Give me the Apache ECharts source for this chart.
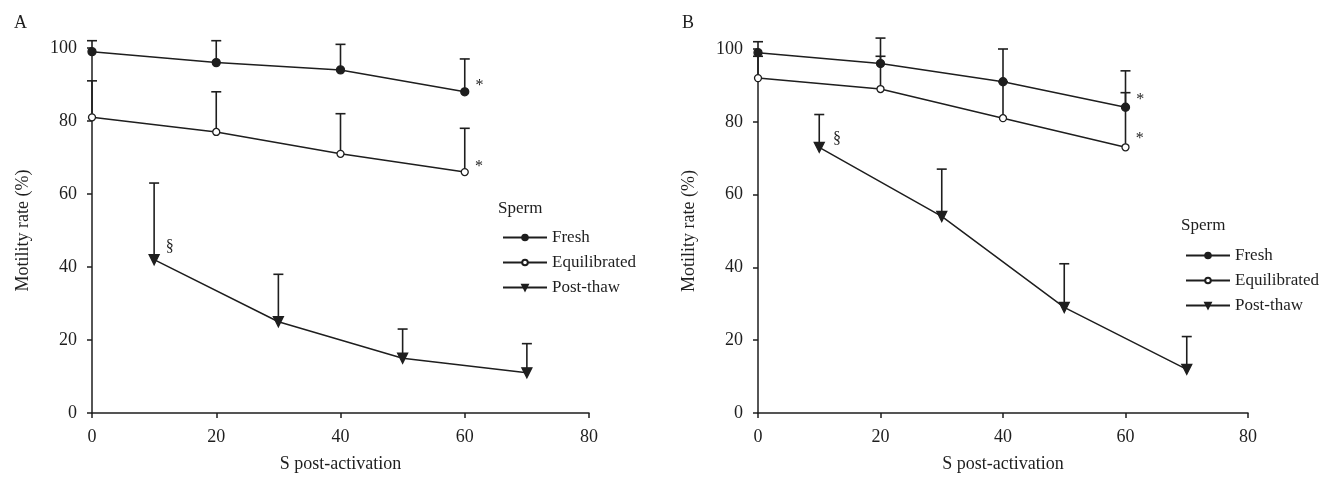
<!DOCTYPE html>
<html>
<head>
<meta charset="utf-8">
<title>Motility rate</title>
<script src="https://cdn.jsdelivr.net/npm/echarts@6.0.0/dist/echarts.min.js"></script>
<style>
  html, body { margin: 0; padding: 0; background: #fff; }
  #chart { width: 1339px; height: 485px; }
</style>
</head>
<body>
<div id="chart"></div>
<script>
// seconds post-activation
const timesFE = [0, 20, 40, 60];
const timesPT = [10, 30, 50, 70];

// panel A
const freshA = [99, 96, 94, 88];
const freshSdA = [3, 6, 7, 9];
const equilA = [81, 77, 71, 66];
const equilSdA = [10, 11, 11, 12];
const thawA = [42, 25, 15, 11];
const thawSdA = [21, 13, 8, 8];

// panel B
const freshB = [99, 96, 91, 84];
const freshSdB = [3, 7, 9, 10];
const equilB = [92, 89, 81, 73];
const equilSdB = [6, 9, 10, 15];
const thawB = [73, 54, 29, 12];
const thawSdB = [9, 13, 12, 9];

const seriesNames = ['Fresh', 'Equilibrated', 'Post-thaw'];
const xTicks = [0, 20, 40, 60, 80];
const yTicks = [0, 20, 40, 60, 80, 100];

const ink = '#1e1e1e';
const serif = 'Liberation Serif';
const triDown = 'path://M0,0 L10,0 L5,9 Z';

const chart = echarts.init(document.getElementById('chart'));

// one point list, with an optional mark (* or §) next to one point
function points(xs, ys, markIdx, mark, offset) {
  return xs.map((x, i) => {
    if (i !== markIdx) return [x, ys[i]];
    return {
      value: [x, ys[i]],
      label: {
        show: true, formatter: mark, position: 'right', distance: 6,
        offset: offset, color: ink, fontFamily: serif, fontSize: 16
      }
    };
  });
}

function errData(xs, ys, sd) {
  return xs.map((x, i) => [x, ys[i], ys[i] + sd[i]]);
}

function errRender(params, api) {
  const p = api.coord([api.value(0), api.value(1)]);
  const t = api.coord([api.value(0), api.value(2)]);
  return {
    type: 'group',
    children: [
      { type: 'line', shape: { x1: p[0], y1: p[1], x2: t[0], y2: t[1] }, style: { stroke: ink, lineWidth: 1.6 } },
      { type: 'line', shape: { x1: t[0] - 5, y1: t[1], x2: t[0] + 5, y2: t[1] }, style: { stroke: ink, lineWidth: 1.6 } }
    ]
  };
}

function lineSeries(name, idx, data, symbol, size, fill) {
  return {
    name: name,
    type: 'line',
    xAxisIndex: idx,
    yAxisIndex: idx,
    data: data,
    symbol: symbol,
    symbolSize: size,
    showAllSymbol: true,
    lineStyle: { color: ink, width: 1.5 },
    itemStyle: { color: fill, borderColor: ink, borderWidth: 1.3 },
    z: 3
  };
}

function errSeries(idx, data) {
  return {
    type: 'custom',
    xAxisIndex: idx,
    yAxisIndex: idx,
    data: data,
    renderItem: errRender,
    encode: { x: 0, y: 1 },
    silent: true,
    z: 2
  };
}

function xAxis(idx) {
  return {
    type: 'value', gridIndex: idx, min: xTicks[0], max: xTicks[xTicks.length - 1], interval: 20,
    name: 'S post-activation', nameLocation: 'middle', nameGap: 42,
    nameTextStyle: { color: ink, fontFamily: serif, fontSize: 18 },
    axisLine: { lineStyle: { color: ink, width: 1.5 } },
    axisTick: { lineStyle: { color: ink, width: 1.5 }, length: 5 },
    axisLabel: { color: ink, fontFamily: serif, fontSize: 18, margin: 15 },
    splitLine: { show: false }
  };
}

function yAxis(idx) {
  return {
    type: 'value', gridIndex: idx, min: yTicks[0], max: yTicks[yTicks.length - 1], interval: 20,
    name: 'Motility rate (%)', nameLocation: 'middle', nameGap: 60,
    nameTextStyle: { color: ink, fontFamily: serif, fontSize: 18 },
    axisLine: { show: true, lineStyle: { color: ink, width: 1.5 } },
    axisTick: { show: true, lineStyle: { color: ink, width: 1.5 }, length: 5 },
    axisLabel: { color: ink, fontFamily: serif, fontSize: 18, margin: 15 },
    splitLine: { show: false }
  };
}

function legend(left, top) {
  return {
    data: seriesNames,
    orient: 'vertical',
    left: left,
    top: top,
    itemWidth: 44,
    itemHeight: 7,
    itemGap: 8,
    selectedMode: false,
    textStyle: { color: ink, fontFamily: serif, fontSize: 17 }
  };
}

const option = {
  animation: false,
  backgroundColor: '#fff',
  grid: [
    { left: 92, top: 48, width: 497, height: 365 },
    { left: 758, top: 49, width: 490, height: 364 }
  ],
  xAxis: [xAxis(0), xAxis(1)],
  yAxis: [yAxis(0), yAxis(1)],
  legend: [legend(497, 224), legend(1180, 242)],
  graphic: [
    { type: 'text', left: 14, top: 14, style: { text: 'A', fill: ink, font: '18px "Liberation Serif"' } },
    { type: 'text', left: 682, top: 14, style: { text: 'B', fill: ink, font: '18px "Liberation Serif"' } },
    { type: 'text', left: 498, top: 200, style: { text: 'Sperm', fill: ink, font: '17px "Liberation Serif"' } },
    { type: 'text', left: 1181, top: 217, style: { text: 'Sperm', fill: ink, font: '17px "Liberation Serif"' } }
  ],
  series: [
    errSeries(0, errData(timesFE, freshA, freshSdA)),
    errSeries(0, errData(timesFE, equilA, equilSdA)),
    errSeries(0, errData(timesPT, thawA, thawSdA)),
    lineSeries('Fresh', 0, points(timesFE, freshA, 3, '*', [0, -6]), 'circle', 8, ink),
    lineSeries('Equilibrated', 0, points(timesFE, equilA, 3, '*', [0, -5]), 'circle', 7, '#fff'),
    lineSeries('Post-thaw', 0, points(timesPT, thawA, 0, '§', [0, -13]), triDown, 10, ink),

    errSeries(1, errData(timesFE, freshB, freshSdB)),
    errSeries(1, errData(timesFE, equilB, equilSdB)),
    errSeries(1, errData(timesPT, thawB, thawSdB)),
    lineSeries('Fresh', 1, points(timesFE, freshB, 3, '*', [0, -7]), 'circle', 8, ink),
    lineSeries('Equilibrated', 1, points(timesFE, equilB, 3, '*', [0, -8]), 'circle', 7, '#fff'),
    lineSeries('Post-thaw', 1, points(timesPT, thawB, 0, '§', [2, -8]), triDown, 10, ink)
  ]
};

chart.setOption(option);
</script>
</body>
</html>
